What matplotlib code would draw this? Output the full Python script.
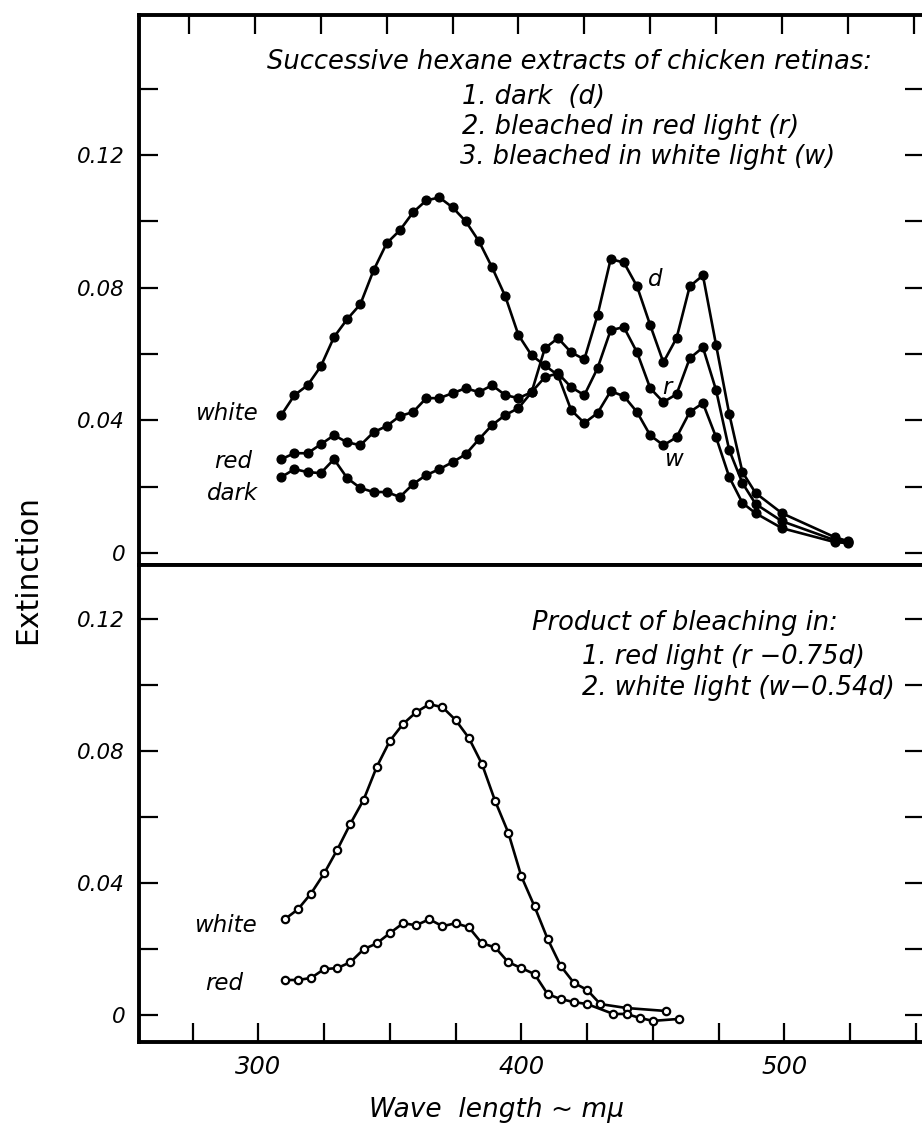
import matplotlib
matplotlib.use("Agg")
import matplotlib.pyplot as plt
from matplotlib.ticker import FixedLocator, FuncFormatter

plt.rcParams['font.family'] = ['DejaVu Sans']
plt.rcParams['font.style'] = 'italic'

# ---- upper panel: successive hexane extracts (extinction) ----
wl_top = [310, 315, 320, 325, 330, 335, 340, 345, 350, 355, 360, 365, 370, 375,
          380, 385, 390, 395, 400, 405, 410, 415, 420, 425, 430, 435, 440, 445,
          450, 455, 460, 465, 470, 475, 480, 485, 490, 500, 520, 525]
white_top = [0.0416, 0.0476, 0.0506, 0.0563, 0.0651, 0.0705, 0.0750, 0.0852, 0.0934, 0.0973,
             0.1027, 0.1063, 0.1072, 0.1042, 0.1000, 0.0940, 0.0861, 0.0774, 0.0657, 0.0596,
             0.0566, 0.0536, 0.0431, 0.0392, 0.0422, 0.0488, 0.0473, 0.0425, 0.0355, 0.0325,
             0.0349, 0.0425, 0.0452, 0.0349, 0.0229, 0.0151, 0.0120, 0.0075, 0.0033, 0.0030]
red_top = [0.0283, 0.0301, 0.0301, 0.0328, 0.0355, 0.0334, 0.0325, 0.0364, 0.0383, 0.0413,
           0.0425, 0.0467, 0.0467, 0.0482, 0.0497, 0.0485, 0.0506, 0.0476, 0.0467, 0.0485,
           0.0530, 0.0542, 0.0500, 0.0476, 0.0557, 0.0672, 0.0681, 0.0605, 0.0497, 0.0455,
           0.0479, 0.0587, 0.0620, 0.0491, 0.0310, 0.0211, 0.0148, 0.0096, 0.0039, 0.0033]
dark_top = [0.0229, 0.0253, 0.0244, 0.0241, 0.0283, 0.0226, 0.0196, 0.0184, 0.0184, 0.0169,
            0.0208, 0.0235, 0.0253, 0.0274, 0.0298, 0.0343, 0.0386, 0.0416, 0.0437, 0.0485,
            0.0617, 0.0648, 0.0605, 0.0584, 0.0717, 0.0886, 0.0876, 0.0804, 0.0687, 0.0575,
            0.0648, 0.0804, 0.0837, 0.0627, 0.0419, 0.0244, 0.0181, 0.0120, 0.0048, 0.0036]

# ---- lower panel: products of bleaching ----
wl_white_prod = [310, 315, 320, 325, 330, 335, 340, 345, 350, 355, 360, 365, 370, 375,
                 380, 385, 390, 395, 400, 405, 410, 415, 420, 425, 430, 440, 455]
white_prod = [0.0290, 0.0320, 0.0368, 0.0429, 0.0501, 0.0580, 0.0652, 0.0752, 0.0831, 0.0882,
              0.0918, 0.0942, 0.0933, 0.0894, 0.0840, 0.0761, 0.0649, 0.0553, 0.0420, 0.0329,
              0.0230, 0.0148, 0.0097, 0.0076, 0.0033, 0.0021, 0.0012]
wl_red_prod = [310, 315, 320, 325, 330, 335, 340, 345, 350, 355, 360, 365, 370, 375,
               380, 385, 390, 395, 400, 405, 410, 415, 420, 425, 435, 440, 445, 450, 460]
red_prod = [0.0106, 0.0106, 0.0112, 0.0139, 0.0142, 0.0160, 0.0199, 0.0217, 0.0248, 0.0278,
            0.0272, 0.0290, 0.0269, 0.0278, 0.0266, 0.0217, 0.0205, 0.0160, 0.0142, 0.0124,
            0.0063, 0.0048, 0.0039, 0.0033, 0.0003, 0.0003, -0.0009, -0.0018, -0.0012]

y_major = [0, 0.04, 0.08, 0.12]
y_minor_top = [0.02, 0.06, 0.10, 0.14]
y_minor_bot = [0.02, 0.06, 0.10]
x_major = [300, 400, 500]
x_minor = [275, 325, 350, 375, 425, 450, 475, 525, 550]

W, H = 922, 1127


def fx(px):
    return px / W


def fy(py):
    return 1 - py / H


fig = plt.figure(figsize=(W / 100, H / 100), dpi=100)
ax1 = fig.add_axes([fx(139), fy(565), fx(924 - 139), (565 - 15) / H])
ax2 = fig.add_axes([fx(139), fy(1042), fx(924 - 139), (1042 - 565) / H])

for w_, v_ in [(wl_top, white_top), (wl_top, red_top), (wl_top, dark_top)]:
    ax1.plot(w_, v_, color='black', lw=1.9, marker='o', ms=6.3,
             mfc='black', mec='black')

ax2.plot(wl_white_prod, white_prod, color='black', lw=1.9, marker='o', ms=5.3,
         mfc='white', mec='black', mew=1.6)
ax2.plot(wl_red_prod, red_prod, color='black', lw=1.9, marker='o', ms=5.3,
         mfc='white', mec='black', mew=1.6)

ax1.set_xlim(256.0, 553.9)
ax1.set_ylim(-0.0036, 0.1622)
ax2.set_xlim(254.6, 553.1)
ax2.set_ylim(-0.0082, 0.1364)

fmt = FuncFormatter(lambda v, p: '0' if abs(v) < 1e-9 else f'{v:.2f}')
for ax, ymin in [(ax1, y_minor_top), (ax2, y_minor_bot)]:
    ax.xaxis.set_major_locator(FixedLocator(x_major))
    ax.xaxis.set_minor_locator(FixedLocator(x_minor))
    ax.yaxis.set_major_locator(FixedLocator(y_major))
    ax.yaxis.set_minor_locator(FixedLocator(ymin))
    ax.yaxis.set_major_formatter(fmt)
    ax.tick_params(axis='y', which='both', left=True, right=True, direction='in',
                   length=14, width=1.6, labelsize=15.5, pad=10)
    for s in ax.spines.values():
        s.set_linewidth(2.8)

ax1.tick_params(axis='x', which='both', top=True, bottom=False, labelbottom=False,
                labeltop=False, direction='in', length=14, width=1.6)
ax2.tick_params(axis='x', which='both', top=False, bottom=True, labelbottom=True,
                direction='in', length=14, width=1.6, labelsize=17.5, pad=9)

# upper panel texts
fs = 18.5
fig.text(fx(267), fy(62), 'Successive hexane extracts of chicken retinas:',
         fontsize=fs, va='center', ha='left')
fig.text(fx(462), fy(97), '1. dark  (d)', fontsize=fs, va='center', ha='left')
fig.text(fx(462), fy(127), '2. bleached in red light (r)', fontsize=fs, va='center', ha='left')
fig.text(fx(460), fy(157), '3. bleached in white light (w)', fontsize=fs, va='center', ha='left')

fl = 16.5
fig.text(fx(258), fy(413), 'white', fontsize=fl, va='center', ha='right')
fig.text(fx(252), fy(462), 'red', fontsize=fl, va='center', ha='right')
fig.text(fx(258), fy(493), 'dark', fontsize=fl, va='center', ha='right')
fig.text(fx(655), fy(280), 'd', fontsize=fl, va='center', ha='center')
fig.text(fx(667), fy(388), 'r', fontsize=fl, va='center', ha='center')
fig.text(fx(673), fy(460), 'w', fontsize=fl, va='center', ha='center')

# lower panel texts
fig.text(fx(532), fy(623), 'Product of bleaching in:', fontsize=fs, va='center', ha='left')
fig.text(fx(582), fy(657), '1. red light (r \u22120.75d)', fontsize=fs, va='center', ha='left')
fig.text(fx(582), fy(688), '2. white light (w\u22120.54d)', fontsize=fs, va='center', ha='left')
fig.text(fx(257), fy(925), 'white', fontsize=fl, va='center', ha='right')
fig.text(fx(243), fy(983), 'red', fontsize=fl, va='center', ha='right')

fig.text(fx(28), fy(570), 'Extinction', fontsize=21.5, rotation=90, style='normal',
         va='center', ha='center')
fig.text(fx(496), fy(1110), 'Wave  length ~ m\u03bc', fontsize=19, va='center', ha='center')

fig.savefig('out.png', dpi=100)
